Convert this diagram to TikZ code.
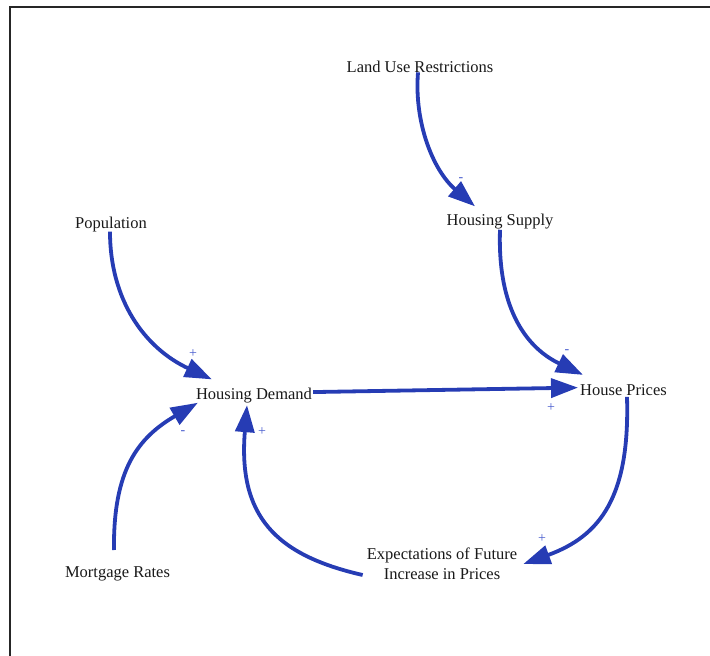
\documentclass[tikz,border=0pt]{standalone}
\usepackage{fontspec}
\setmainfont{Liberation Serif}
\usetikzlibrary{arrows.meta}
\definecolor{linkblue}{RGB}{38,60,180}
\definecolor{signblue}{RGB}{70,90,205}
\definecolor{ink}{RGB}{25,25,25}
\begin{document}
\begin{tikzpicture}[x=1pt,y=-1pt,
  var/.style={inner sep=0pt, anchor=base, text=ink, font=\fontsize{16.5}{19.5}\selectfont},
  link/.style={draw=linkblue, line width=3.8pt, -{Triangle[length=27pt,width=19pt]}},
  sign/.style={inner sep=0pt, text=signblue, font=\fontsize{14}{14}\selectfont},
  frame/.style={draw=black!85, line width=2pt}]
\useasboundingbox (0,0) rectangle (710,656);
% open frame: top and left edges
\draw[frame] (710,7) -- (10,7) -- (10,656);

% variables
\node[var] (lur) at (420,72) {Land Use Restrictions};
\node[var] (hs)  at (500,225) {Housing Supply};
\node[var] (pop) at (111,228) {Population};
\node[var] (hd)  at (254,399) {Housing Demand};
\node[var] (hp)  at (623.5,395) {House Prices};
\node[var] (mr)  at (117.5,577) {Mortgage Rates};
\node[var, align=center, anchor=center] (exp) at (442,564) {Expectations of Future\\Increase in Prices};

% causal links
\draw[link] ([xshift=-2pt]lur.south) .. controls +(-4,50) and +(-42,-36) .. ([xshift=-25pt,yshift=7pt]hs.north);
\draw[link] ([yshift=-1pt]hs.south) .. controls +(-3,90) and +(-48,-23) .. ([xshift=3pt,yshift=9pt]hp.north west);
\draw[link] ([xshift=-1pt]pop.south) .. controls +(0,68) and +(-67.5,-31.5) .. ([xshift=16pt,yshift=8pt]hd.north west);
\draw[link] ([xshift=1pt,yshift=3pt]hd.east) -- ([xshift=-2pt,yshift=2pt]hp.west);
\draw[link] ([xshift=3.5pt,yshift=-1.5pt]hp.south) .. controls +(3,100) and +(77,-28) .. ([xshift=6pt]exp.east);
\draw[link] ([xshift=-4pt,yshift=-11pt]exp.west) .. controls +(-88,-20) and +(-9,110) .. ([xshift=-7pt,yshift=-2.4pt]hd.south);
\draw[link] ([xshift=-3.5pt,yshift=16pt]mr.north) .. controls +(-1,-80) and +(-60,35) .. ([xshift=2pt]hd.south west);

% link polarities
\node[sign] (p1) at (461,180) {-};
\node[sign] (p2) at (567,352) {-};
\node[sign] (p3) at (193,354) {+};
\node[sign] (p4) at (551,408) {+};
\node[sign] (p5) at (542,539) {+};
\node[sign] (p6) at (262,432) {+};
\node[sign] (p7) at (183,433) {-};
\end{tikzpicture}
\end{document}
